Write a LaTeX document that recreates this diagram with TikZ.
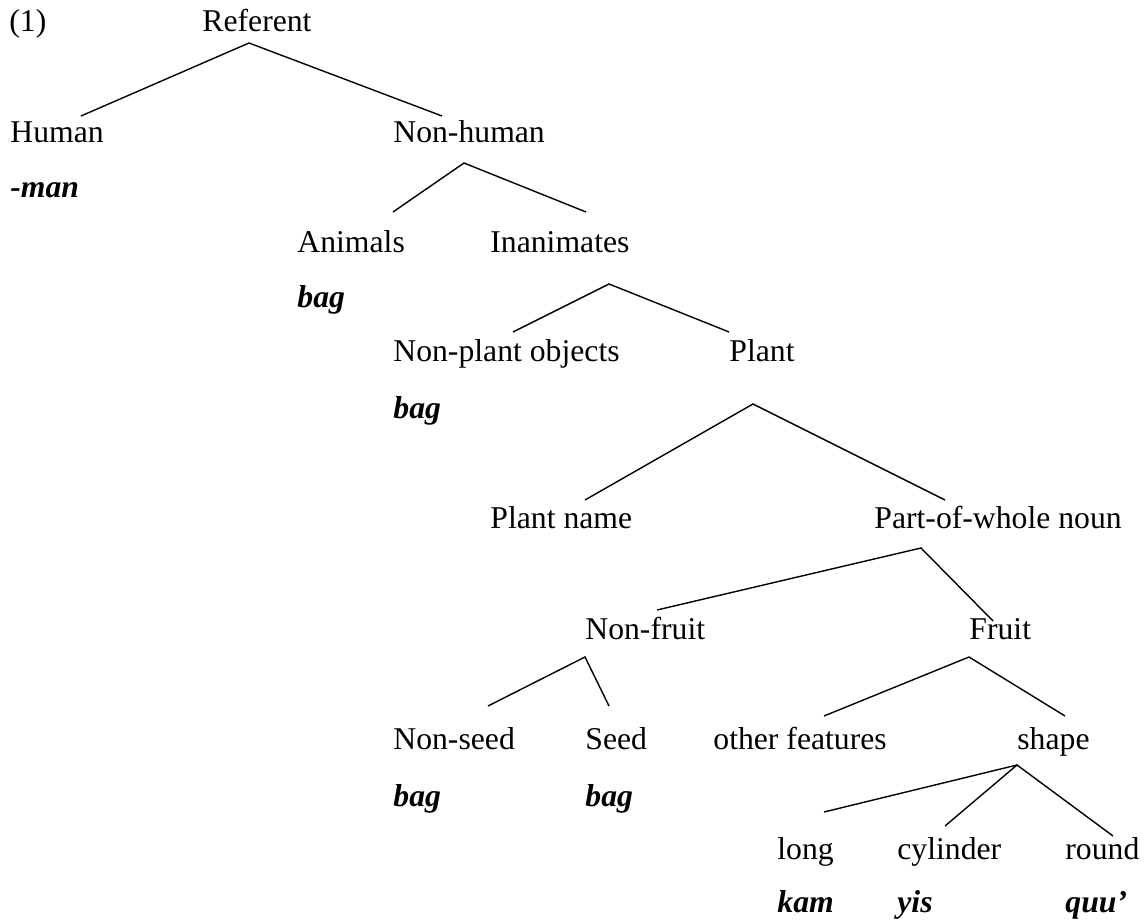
\documentclass[tikz,border=0pt]{standalone}
\usepackage{fontspec}
\setmainfont{Liberation Serif}
\usetikzlibrary{calc}

\begin{document}
\begin{tikzpicture}[x=0.5pt, y=-0.5pt,
  word/.style={anchor=base west, inner sep=0pt, font=\fontsize{15.85}{19}\selectfont},
  gloss/.style={word, font=\fontsize{15.85}{19}\selectfont\bfseries\itshape},
  branch/.style={line width=0.7pt}]
\useasboundingbox (0,0) rectangle (1145,924);

% Category labels
\node[word] (num) at (9,32) {(1)};
\node[word] (ref) at (202,32) {Referent};
\node[word] (hum) at (10,143) {Human};
\node[word] (nonhum) at (393,143) {Non-human};
\node[word] (anim) at (297,253) {Animals};
\node[word] (inan) at (490,253) {Inanimates};
\node[word] (npo) at (393,362) {Non-plant objects};
\node[word] (plant) at (729,362) {Plant};
\node[word] (pname) at (490,529) {Plant name};
\node[word] (pow) at (874,529) {Part-of-whole noun};
\node[word] (nfruit) at (585,639) {Non-fruit};
\node[word] (fruit) at (969,639) {Fruit};
\node[word] (nseed) at (393,749) {Non-seed};
\node[word] (seed) at (585,749) {Seed};
\node[word] (other) at (713,749) {other features};
\node[word] (shape) at (1017,749) {shape};
\node[word] (long) at (777,859) {long};
\node[word] (cyl) at (897,859) {cylinder};
\node[word] (round) at (1065,859) {round};

% Classifiers
\foreach \n/\x/\y/\w in {man/10/198/-man, bag-a/297/308/bag, bag-b/393/419/bag,
    bag-c/393/806/bag, bag-d/585/806/bag, kam/777/912/kam, yis/897/912/yis, quu/1065/912/quu’}
  \node[gloss] (g-\n) at (\x,\y) {\w};

% Branches
\draw[branch] ($(hum.base west)+(71,-27)$) -- ($(ref.base west)+(47,11)$) -- ($(nonhum.base west)+(49,-27)$);
\draw[branch] ($(anim.base west)+(96,-41)$) -- ($(nonhum.base west)+(71,20)$) -- ($(inan.base west)+(96,-41)$);
\draw[branch] ($(npo.base west)+(120,-30)$) -- ($(inan.base west)+(119,31)$) -- ($(plant.base west)+(0,-30)$);
\draw[branch] ($(pname.base west)+(95,-29)$) -- ($(plant.base west)+(24,42)$) -- ($(pow.base west)+(71,-29)$);
\draw[branch] ($(nfruit.base west)+(72,-29)$) -- ($(pow.base west)+(47,19)$) -- ($(fruit.base west)+(24,-18)$);
\draw[branch] ($(nseed.base west)+(95,-43)$) -- ($(nfruit.base west)+(0,18)$) -- ($(seed.base west)+(24,-43)$);
\draw[branch] ($(other.base west)+(111,-33)$) -- ($(fruit.base west)+(0,18)$) -- ($(shape.base west)+(48,-33)$);
\draw[branch] ($(long.base west)+(47,-47)$) -- ($(shape.base west)+(0,16)$) -- ($(round.base west)+(48,-23)$);
\draw[branch] ($(shape.base west)+(0,16)$) -- ($(cyl.base west)+(48,-33)$);

\end{tikzpicture}
\end{document}
